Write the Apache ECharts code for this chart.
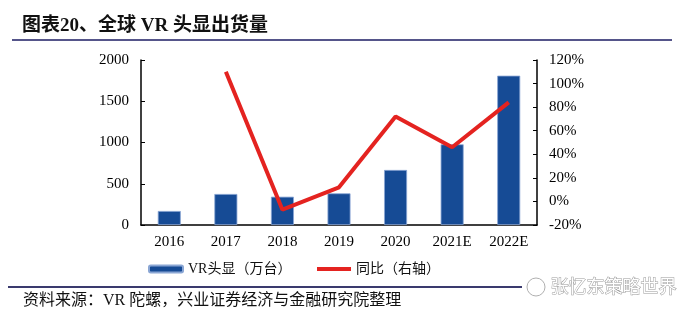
<!DOCTYPE html>
<html>
<head>
<meta charset="utf-8">
<script src="https://cdn.jsdelivr.net/npm/echarts@6/dist/echarts.min.js"></script>
<style>html,body{margin:0;padding:0;background:#fff}#c{width:700px;height:323px}</style>
</head>
<body>
<div id="c"></div>
<script>
var categories = ['2016', '2017', '2018', '2019', '2020', '2021E', '2022E'];
var shipments = [170, 376, 343, 384, 667, 978, 1810];
var yoy = [null, 110, -7, 12, 72, 46, 84];
var leftTicks = {min: 0, max: 2000, interval: 500};
var rightTicks = {min: -20, max: 120, interval: 20};
var seriesNames = ['VR头显（万台）', '同比（右轴）'];

var FONT = "'Liberation Serif', 'Noto Sans CJK SC', serif";
var chart = echarts.init(document.getElementById('c'), null, {renderer: 'canvas'});
chart.setOption({
  animation: false,
  backgroundColor: '#fff',
  grid: {left: 141, right: 163, top: 60, bottom: 98},
  graphic: [
    {type: 'text', left: 22, top: 17, style: {text: '图表20、全球 VR 头显出货量', font: "bold 19px 'Liberation Serif', 'Noto Sans CJK SC', serif", fill: '#111'}},
    {type: 'line', shape: {x1: 12, y1: 40, x2: 672, y2: 40}, style: {stroke: '#55558a', lineWidth: 2}},
    {type: 'line', shape: {x1: 8, y1: 287, x2: 672, y2: 287}, style: {stroke: '#3a3a6e', lineWidth: 2}},
    {type: 'text', left: 23, top: 293, style: {text: '资料来源：VR 陀螺，兴业证券经济与金融研究院整理', font: "16px 'Liberation Serif', 'Noto Sans CJK SC', serif", fill: '#111'}},
    {type: 'rect', shape: {x: 522, y: 277, width: 152, height: 20}, style: {fill: '#fff'}},
    {type: 'text', left: 550, top: 277, style: {text: '张忆东策略世界', font: "18px 'Noto Sans CJK SC', sans-serif", fill: '#fff', stroke: '#9a9a9a', lineWidth: 1}},
    {type: 'circle', shape: {cx: 536, cy: 287, r: 9}, style: {fill: 'none', stroke: '#b0b0b0', lineWidth: 1}}
  ],
  legend: [
    {data: [seriesNames[0]], left: 143, top: 257, itemWidth: 34, itemHeight: 7, textStyle: {fontFamily: FONT, fontSize: 14, color: '#111'}},
    {data: [{name: seriesNames[1], icon: 'rect'}], left: 312, top: 257, itemWidth: 34, itemHeight: 4, itemStyle: {color: '#e42320'}, textStyle: {fontFamily: FONT, fontSize: 14, color: '#111'}}
  ],
  xAxis: {
    type: 'category',
    data: categories,
    axisLine: {lineStyle: {color: '#000', width: 1.5}},
    axisTick: {show: false},
    axisLabel: {color: '#000', fontFamily: FONT, fontSize: 15, margin: 10}
  },
  yAxis: [
    {
      type: 'value', min: leftTicks.min, max: leftTicks.max, interval: leftTicks.interval,
      axisLine: {show: true, lineStyle: {color: '#000', width: 1.5}},
      axisTick: {show: true, inside: true, length: 4, lineStyle: {color: '#000'}},
      splitLine: {show: false},
      axisLabel: {color: '#000', fontFamily: FONT, fontSize: 15, margin: 12, formatter: function (v) { return String(v); }}
    },
    {
      type: 'value', min: rightTicks.min, max: rightTicks.max, interval: rightTicks.interval,
      position: 'right',
      axisLine: {show: true, lineStyle: {color: '#000', width: 1.5}},
      axisTick: {show: true, inside: true, length: 4, lineStyle: {color: '#000'}},
      splitLine: {show: false},
      axisLabel: {color: '#000', fontFamily: FONT, fontSize: 15, margin: 12, formatter: '{value}%'}
    }
  ],
  series: [
    {
      name: seriesNames[0], type: 'bar', data: shipments, yAxisIndex: 0,
      barWidth: 23,
      itemStyle: {color: '#164B95', borderColor: '#8aa6d4', borderWidth: 0.8}
    },
    {
      name: seriesNames[1], type: 'line', data: yoy, yAxisIndex: 1,
      symbol: 'none', connectNulls: false,
      lineStyle: {color: '#e42320', width: 4},
      itemStyle: {color: '#e42320'}
    }
  ]
});
</script>
</body>
</html>
